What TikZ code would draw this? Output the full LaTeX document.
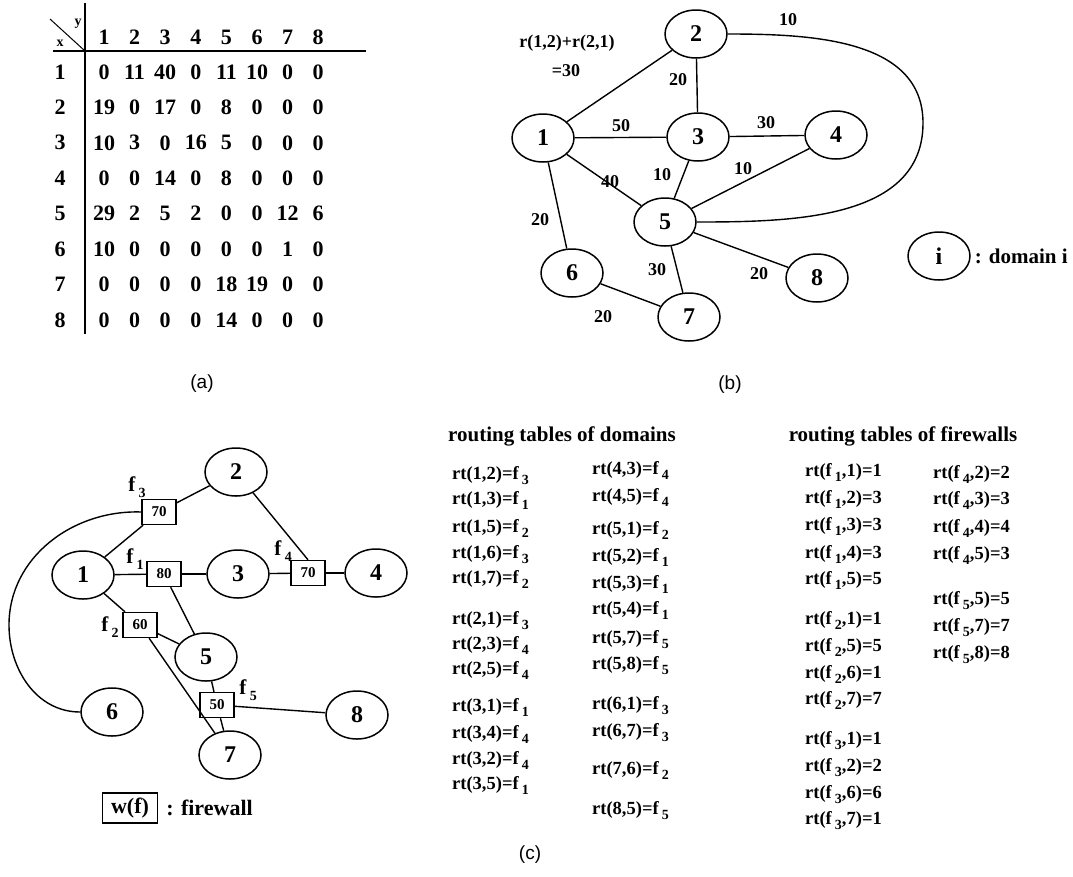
\documentclass[tikz,border=0pt]{standalone}
\usepackage{fontspec}
\setmainfont{Liberation Serif}
\newfontfamily\capfont{Liberation Sans}
\usetikzlibrary{shapes.geometric}

% lowered index after an f
\newcommand\fsub[1]{\,\raisebox{-0.6ex}{\fontsize{14}{14}\selectfont #1}}

\tikzset{
  domnode/.style={ellipse, draw, line width=1.5pt, minimum width=62pt, minimum height=48pt,
    inner sep=0pt, font=\fontsize{24}{24}\selectfont\bfseries},
  fwall/.style={rectangle, draw, line width=1.4pt, minimum width=34pt, minimum height=25pt,
    inner sep=0pt, font=\fontsize{15}{15}\selectfont\bfseries},
  link/.style={line width=1.4pt},
  wt/.style={font=\fontsize{18}{18}\selectfont\bfseries, inner sep=1pt},
  cell/.style={font=\fontsize{22}{22}\selectfont\bfseries, inner sep=0pt},
  rtitle/.style={font=\fontsize{21}{21}\selectfont\bfseries, inner sep=0pt},
  rtline/.style={anchor=base west, font=\fontsize{18.5}{18.5}\selectfont\bfseries, inner sep=0pt},
  capt/.style={font=\fontsize{19}{19}\selectfont\capfont},
}

\begin{document}
\begin{tikzpicture}[x=1pt, y=-1pt]
\useasboundingbox (0,0) rectangle (1073,876);

% (a) traffic matrix
\draw[link] (85,3) -- (85,334);
\draw[link] (53,51) -- (366,51);
\draw[line width=1pt] (50,19) -- (85,51);
\node[font=\fontsize{14}{14}\selectfont\bfseries] (ylab) at (78,24) {y};
\node[font=\fontsize{14}{14}\selectfont\bfseries] (xlab) at (60,43) {x};
\foreach \c in {1,...,8}
  \node[cell] (col\c) at ({104+30.6*(\c-1)}, 37) {\c};
\foreach \r/\vals in {1/{0,11,40,0,11,10,0,0}, 2/{19,0,17,0,8,0,0,0},
    3/{10,3,0,16,5,0,0,0}, 4/{0,0,14,0,8,0,0,0}, 5/{29,2,5,2,0,0,12,6},
    6/{10,0,0,0,0,0,1,0}, 7/{0,0,0,0,18,19,0,0}, 8/{0,0,0,0,14,0,0,0}} {
  \node[cell] (row\r) at (60, {72+35.4*(\r-1)}) {\r};
  \foreach \v [count=\c] in \vals
    \node[cell] (m\r-\c) at ({104+30.6*(\c-1)}, {72+35.4*(\r-1)}) {\v};
}
\node[capt] (capa) at (202,384) {(a)};

% (b) traffic graph
\node[domnode] (b1) at (543,138) {1};
\node[domnode] (b2) at (696,34) {2};
\node[domnode] (b3) at (698,137) {3};
\node[domnode] (b4) at (836,135) {4};
\node[domnode] (b5) at (665,222) {5};
\node[domnode] (b6) at (572,273) {6};
\node[domnode] (b7) at (689,317) {7};
\node[domnode] (b8) at (817,278) {8};
\coordinate (far) at (923,123);

\draw[link] (b1) -- (b2);
\draw[link] (b2) -- (b3);
\draw[link] (b1) -- (b3);
\draw[link] (b3) -- (b4);
\draw[link] (b3) -- (b5);
\draw[link] (b4) -- (b5);
\draw[link] (b1) -- (b5);
\draw[link] (b1) -- (b6);
\draw[link] (b5) -- (b7);
\draw[link] (b5) -- (b8);
\draw[link] (b6) -- (b7);
\draw[link] (b2.east) to[out=0, in=90] (far) to[out=-90, in=0] (b5.east);

\node[wt] (w12) at (567,43) {r(1,2)+r(2,1)};
\node[wt] (w12b) at (566,71) {=30};
\node[wt] (w25) at (788,20) {10};
\node[wt] (w23) at (678,80) {20};
\node[wt] (w13) at (621,126) {50};
\node[wt] (w34) at (766,123) {30};
\node[wt] (w35) at (662,175) {10};
\node[wt] (w45) at (743,169) {10};
\node[wt] (w15) at (610,182) {40};
\node[wt] (w16) at (540,220) {20};
\node[wt] (w57) at (657,270) {30};
\node[wt] (w58) at (759,274) {20};
\node[wt] (w67) at (603,317) {20};

\node[domnode] (bi) at (939,256) {i};
\node[anchor=west, inner sep=0pt, font=\fontsize{21}{21}\selectfont\bfseries] (bitxt)
  at ([xshift=4pt]bi.east) {: domain i};
\node[capt] (capb) at (730,385) {(b)};

% (c) domains with firewalls
\node[domnode] (c1) at (83,575) {1};
\node[domnode] (c2) at (236,472) {2};
\node[domnode] (c3) at (238,574) {3};
\node[domnode] (c4) at (376,573) {4};
\node[domnode] (c5) at (206,657) {5};
\node[domnode] (c6) at (112,712) {6};
\node[domnode] (c7) at (230,755) {7};
\node[domnode] (c8) at (357,715) {8};

\node[fwall] (fw1) at (164,574) {80};
\node[fwall] (fw2) at (140,625) {60};
\node[fwall] (fw3) at (159,512) {70};
\node[fwall] (fw4) at (308,573) {70};
\node[fwall] (fw5) at (217,705) {50};
\coordinate (bend) at (9,625);

\draw[link] (c1) -- (fw3);
\draw[link] (fw3) -- (c2);
\draw[link] (fw3.west) to[out=178, in=90] (bend) to[out=-90, in=180] (c6.west);
\draw[link] (c2) -- (fw4.north);
\draw[link] (c3) -- (fw4);
\draw[link] (fw4) -- (c4);
\draw[link] (c1) -- (fw1);
\draw[link] (fw1) -- (c3);
\draw[link] (fw1) -- (c5);
\draw[link] (c1) -- (fw2);
\draw[link] (fw2) -- (c5);
\draw[link] (fw2) -- (c7);
\draw[link] (c5) -- (fw5);
\draw[link] (fw5) -- (c7);
\draw[link] (fw5) -- (c8);

\foreach \n/\p in {1/{135,559}, 2/{110,627}, 3/{137,487}, 4/{283,551}, 5/{248,690}}
  \node[font=\fontsize{21}{21}\selectfont\bfseries, inner sep=0pt] (lf\n) at (\p) {f\fsub{\n}};

\node[fwall, minimum width=55pt, minimum height=30pt, font=\fontsize{22}{22}\selectfont\bfseries]
  (wf) at (130,808) {w(f)};
\node[anchor=west, inner sep=0pt, font=\fontsize{22}{22}\selectfont\bfseries] (wftxt)
  at ([xshift=8pt]wf.east) {: firewall};

% routing tables
\node[rtitle] (tdom) at (562,436) {routing tables of domains};
\foreach \y/\t [count=\i] in {479/{rt(1,2)=f\fsub{3}}, 504/{rt(1,3)=f\fsub{1}},
    532/{rt(1,5)=f\fsub{2}}, 558/{rt(1,6)=f\fsub{3}}, 583/{rt(1,7)=f\fsub{2}},
    624/{rt(2,1)=f\fsub{3}}, 649/{rt(2,3)=f\fsub{4}}, 674/{rt(2,5)=f\fsub{4}},
    711/{rt(3,1)=f\fsub{1}}, 738/{rt(3,4)=f\fsub{4}}, 764/{rt(3,2)=f\fsub{4}},
    789/{rt(3,5)=f\fsub{1}}}
  \node[rtline] (da\i) at (452,\y) {\t};
\foreach \y/\t [count=\i] in {474/{rt(4,3)=f\fsub{4}}, 501/{rt(4,5)=f\fsub{4}},
    534/{rt(5,1)=f\fsub{2}}, 561/{rt(5,2)=f\fsub{1}}, 588/{rt(5,3)=f\fsub{1}},
    614/{rt(5,4)=f\fsub{1}}, 643/{rt(5,7)=f\fsub{5}}, 669/{rt(5,8)=f\fsub{5}},
    709/{rt(6,1)=f\fsub{3}}, 736/{rt(6,7)=f\fsub{3}}, 774/{rt(7,6)=f\fsub{2}},
    814/{rt(8,5)=f\fsub{5}}}
  \node[rtline] (db\i) at (592,\y) {\t};

\node[rtitle] (tfw) at (903,436) {routing tables of firewalls};
\foreach \y/\t [count=\i] in {476/{rt(f\fsub{1},1)=1}, 503/{rt(f\fsub{1},2)=3},
    530/{rt(f\fsub{1},3)=3}, 558/{rt(f\fsub{1},4)=3}, 584/{rt(f\fsub{1},5)=5},
    624/{rt(f\fsub{2},1)=1}, 651/{rt(f\fsub{2},5)=5}, 678/{rt(f\fsub{2},6)=1},
    704/{rt(f\fsub{2},7)=7}, 744/{rt(f\fsub{3},1)=1}, 771/{rt(f\fsub{3},2)=2},
    798/{rt(f\fsub{3},6)=6}, 824/{rt(f\fsub{3},7)=1}}
  \node[rtline] (fa\i) at (805,\y) {\t};
\foreach \y/\t [count=\i] in {478/{rt(f\fsub{4},2)=2}, 504/{rt(f\fsub{4},3)=3},
    532/{rt(f\fsub{4},4)=4}, 559/{rt(f\fsub{4},5)=3}, 604/{rt(f\fsub{5},5)=5},
    631/{rt(f\fsub{5},7)=7}, 658/{rt(f\fsub{5},8)=8}}
  \node[rtline] (fb\i) at (933,\y) {\t};

\node[capt] (capc) at (530,855) {(c)};
\end{tikzpicture}
\end{document}
